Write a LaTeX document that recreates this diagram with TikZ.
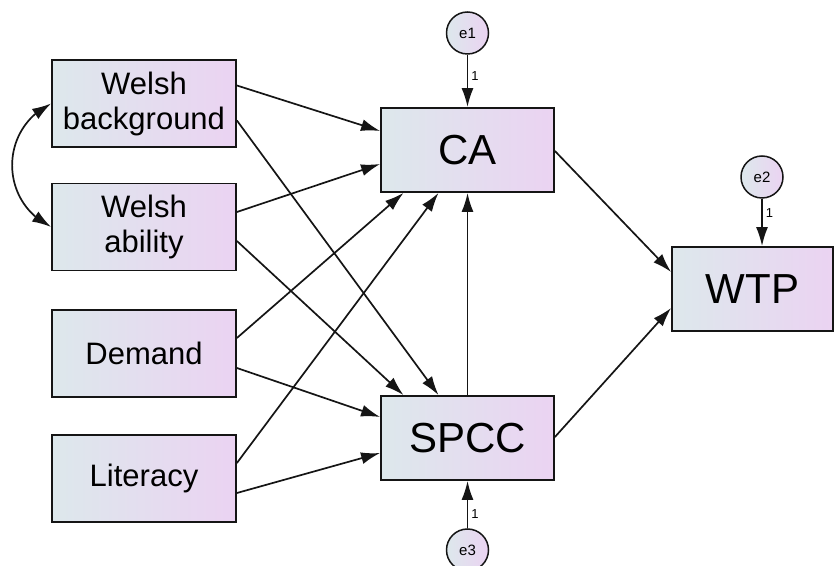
\documentclass[tikz,border=0pt]{standalone}
\usepackage{fontspec}
\setmainfont{Liberation Sans}
\usepackage{tikz}
\usetikzlibrary{positioning,arrows.meta,bending}
\definecolor{SEMleft}{HTML}{DDE8EC}
\definecolor{SEMright}{HTML}{EBD3F2}
\definecolor{SEMline}{HTML}{151515}
\tikzset{
  varbox/.style={rectangle, draw=SEMline, line width=1.8pt, left color=SEMleft, right color=SEMright, align=center, inner sep=0pt},
  obsbox/.style={varbox, minimum width=184pt, minimum height=87pt, font=\fontsize{31}{35}\selectfont},
  bigbox/.style={varbox, minimum width=173pt, minimum height=84pt, font=\fontsize{42}{48}\selectfont},
  errnode/.style={circle, draw=SEMline, line width=1.5pt, left color=SEMleft, right color=SEMright, minimum size=42pt, inner sep=0pt, font=\fontsize{15}{17}\selectfont},
  patharr/.style={-{Latex[length=19pt,width=12pt]}, line width=1.7pt, draw=SEMline},
  covarr/.style={{Latex[length=19pt,width=12pt]}-{Latex[length=19pt,width=12pt]}, line width=1.7pt, draw=SEMline},
  loadlbl/.style={font=\fontsize{13}{15}\selectfont, inner sep=3pt}
}

\begin{document}
\begin{tikzpicture}[x=1pt, y=1pt]
\clip (0,0) rectangle (835,565);
% observed predictors
\node[obsbox] (wb) at (144,461.5) {Welsh\\background};
\node[obsbox] (wa) at (144,338) {Welsh\\ability};
\node[obsbox] (dem) at (144,211.5) {Demand};
\node[obsbox] (lit) at (144,86.5) {Literacy};
% mediators and outcome
\node[bigbox] (ca) at (467.5,415) {CA};
\node[bigbox] (spcc) at (467.5,127) {SPCC};
\node[bigbox, minimum width=161pt] (wtp) at (752.5,276) {WTP};
% error terms
\node[errnode] (e1) at (467.5,532) {e1};
\node[errnode] (e2) at (762,388) {e2};
\node[errnode] (e3) at (467.5,15) {e3};

% paths
\draw[patharr] ([yshift=18pt]wb.east) -- ([yshift=19pt]ca.west);
\draw[patharr] ([yshift=-17pt]wb.east) -- ([xshift=-29pt]spcc.north);
\draw[patharr] ([yshift=15pt]wa.east) -- ([yshift=-14pt]ca.west);
\draw[patharr] ([yshift=-14pt]wa.east) -- ([xshift=-64pt]spcc.north);
\draw[patharr] ([yshift=15.5pt]dem.east) -- ([xshift=-64pt]ca.south);
\draw[patharr] ([yshift=-14.5pt]dem.east) -- ([yshift=21pt]spcc.west);
\draw[patharr] ([yshift=15.5pt]lit.east) -- ([xshift=-29pt]ca.south);
\draw[patharr] ([yshift=-14.5pt]lit.east) -- ([yshift=-15pt]spcc.west);
\draw[patharr] (spcc) -- (ca);
\draw[patharr] ([yshift=-1pt]ca.east) -- ([yshift=17pt]wtp.west);
\draw[patharr] ([yshift=1pt]spcc.east) -- ([yshift=-19pt]wtp.west);
\draw[patharr] (e1) -- node[loadlbl, right, pos=0.4] {1} (ca);
\draw[patharr] (e2) -- node[loadlbl, right, pos=0.3] {1} ([xshift=9.5pt]wtp.north);
\draw[patharr] (e3) -- node[loadlbl, right, pos=0.3] {1} (spcc);
% covariance
\draw[covarr] (wb.west) to[out=206, in=154, looseness=1.2] (wa.west);
\end{tikzpicture}
\end{document}
